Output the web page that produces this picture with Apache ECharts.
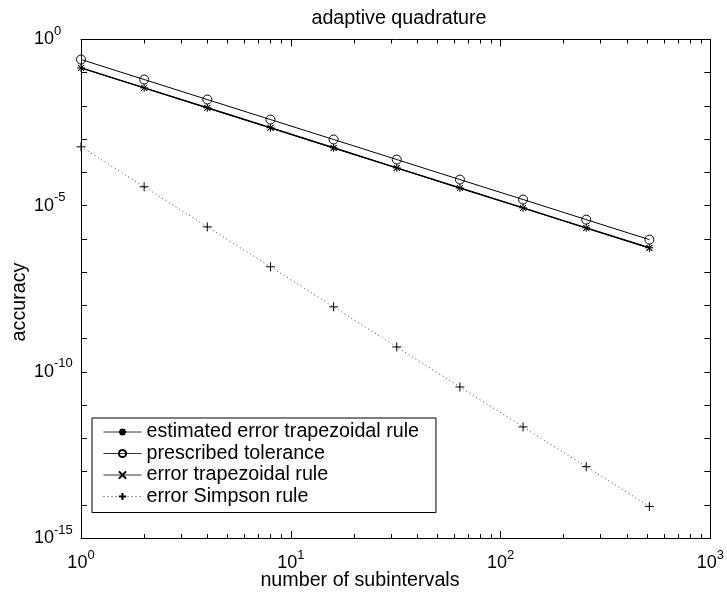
<!DOCTYPE html>
<html>
<head>
<meta charset="utf-8">
<script src="https://cdn.jsdelivr.net/npm/echarts@6/dist/echarts.min.js"></script>
<style>
html,body{margin:0;padding:0;background:#fff;}
#c{width:727px;height:592px;}
</style>
</head>
<body>
<div id="c"></div>
<script>
const subintervals = [1, 2, 4, 8, 16, 32, 64, 128, 256, 512];
const estTrap = [0.14, 0.035, 0.0088, 0.0022, 5.5e-4, 1.37e-4, 3.4e-5, 8.6e-6, 2.15e-6, 5.4e-7];
const tolerance = [0.25, 0.0625, 0.0156, 0.0039, 9.8e-4, 2.44e-4, 6.1e-5, 1.53e-5, 3.8e-6, 9.5e-7];
const errTrap = [0.14, 0.035, 0.0087, 0.0022, 5.4e-4, 1.36e-4, 3.4e-5, 8.5e-6, 2.1e-6, 5.3e-7];
const errSimpson = [5.9e-4, 3.7e-5, 2.3e-6, 1.45e-7, 9.0e-9, 5.6e-10, 3.5e-11, 2.2e-12, 1.4e-13, 8.9e-15];

const xMajor = [1, 10, 100, 1000];
const xMinor = [2,3,4,5,6,7,8,9,20,30,40,50,60,70,80,90,200,300,400,500,600,700,800,900];
const yTicks = [1e-15,1e-14,1e-13,1e-12,1e-11,1e-10,1e-9,1e-8,1e-7,1e-6,1e-5,1e-4,1e-3,1e-2,1e-1,1];
const yLabels = [1e-15, 1e-10, 1e-5, 1];

const seriesNames = ['estimated error trapezoidal rule', 'prescribed tolerance', 'error trapezoidal rule', 'error Simpson rule'];

const FONT = '"Liberation Sans", Arial, Helvetica, sans-serif';
const TXT = 19.7;

function pw(v) {
  const e = Math.round(Math.log10(v));
  return '{b|10}{s|' + (e < 0 ? '-' + (-e) : e) + '}';
}
const rich = {
  b: {fontSize: 18, fontFamily: FONT, color: '#000', height: 18, lineHeight: 24, verticalAlign: 'bottom'},
  s: {fontSize: 13, fontFamily: FONT, color: '#000', height: 14, lineHeight: 14, verticalAlign: 'top'}
};

const STAR = 'path://M0,-1L0,1M-1,0L1,0M-0.72,-0.72L0.72,0.72M-0.72,0.72L0.72,-0.72';
const CROSS = 'path://M-1,-1L1,1M-1,1L1,-1';
const PLUS = 'path://M0,-1L0,1M-1,0L1,0';

function pairs(ys) { return subintervals.map((x, i) => [x, ys[i]]); }

function xAx(pos, ticks, len, labels, showLine) {
  const ax = {
    type: 'log', logBase: 10, min: 1, max: 1000, position: pos, gridIndex: 0,
    axisLine: showLine ? {show: true, onZero: false, lineStyle: {color: '#000', width: 1}} : {show: false},
    axisTick: {show: true, inside: true, length: len, customValues: ticks, lineStyle: {color: '#000', width: 1}},
    splitLine: {show: false}, minorTick: {show: false}, minorSplitLine: {show: false},
    axisLabel: {show: false}
  };
  if (labels) {
    ax.axisLabel = {show: true, customValues: labels, margin: 10, formatter: pw, rich: rich, align: 'center', verticalAlign: 'top'};
  }
  return ax;
}
function yAx(pos, labels) {
  const ax = {
    type: 'log', logBase: 10, min: 1e-15, max: 1, position: pos, gridIndex: 0,
    axisLine: {show: true, onZero: false, lineStyle: {color: '#000', width: 1}},
    axisTick: {show: true, inside: true, length: 6, customValues: yTicks, lineStyle: {color: '#000', width: 1}},
    splitLine: {show: false}, minorTick: {show: false},
    axisLabel: {show: false}
  };
  if (labels) {
    ax.axisLabel = {show: true, customValues: labels, margin: 47, formatter: pw, rich: rich, align: 'left', verticalAlign: 'middle', padding: [0, 0, 6, 0]};
  }
  return ax;
}

const chart = echarts.init(document.getElementById('c'), null, {renderer: 'canvas'});
chart.setOption({
  backgroundColor: '#fff',
  animation: false,
  grid: {left: 81, right: 14, top: 39.5, bottom: 54, containLabel: false},
  xAxis: [
    xAx('bottom', xMajor, 7, xMajor, true),
    xAx('bottom', xMinor, 4, null, false),
    xAx('top', xMajor, 7, null, true),
    xAx('top', xMinor, 4, null, false)
  ],
  yAxis: [
    yAx('left', yLabels),
    yAx('right', null)
  ],
  legend: {
    orient: 'vertical', left: 92, top: 418,
    itemWidth: 38, itemHeight: 9, itemGap: 1.5,
    padding: [4, 17, 6, 11],
    borderColor: '#000', borderWidth: 1, backgroundColor: '#fff',
    lineStyle: {width: 1, color: '#333'},
    textStyle: {fontSize: TXT, fontFamily: FONT, color: '#000'},
    data: seriesNames
  },
  graphic: [
    {type: 'text', x: 399, y: 18.5, style: {text: 'adaptive quadrature', font: TXT + 'px ' + FONT, fill: '#000', align: 'center', verticalAlign: 'middle'}},
    {type: 'text', x: 360, y: 581, style: {text: 'number of subintervals', font: TXT + 'px ' + FONT, fill: '#000', align: 'center', verticalAlign: 'middle'}},
    {type: 'text', x: 20, y: 302, rotation: Math.PI / 2, style: {text: 'accuracy', font: TXT + 'px ' + FONT, fill: '#000', align: 'center', verticalAlign: 'middle'}}
  ],
  series: [
    {name: seriesNames[0], type: 'line', xAxisIndex: 0, yAxisIndex: 0, data: pairs(estTrap),
     symbol: STAR, symbolSize: 8, showAllSymbol: true,
     lineStyle: {color: '#000', width: 1.5}, itemStyle: {color: '#000', borderColor: '#000', borderWidth: 1}},
    {name: seriesNames[1], type: 'line', xAxisIndex: 0, yAxisIndex: 0, data: pairs(tolerance),
     symbol: 'circle', symbolSize: 9, showAllSymbol: true,
     lineStyle: {color: '#000', width: 1}, itemStyle: {color: 'rgba(255,255,255,0)', borderColor: '#000', borderWidth: 1}},
    {name: seriesNames[2], type: 'line', xAxisIndex: 0, yAxisIndex: 0, data: pairs(errTrap),
     symbol: CROSS, symbolSize: 6, showAllSymbol: true,
     lineStyle: {color: '#000', width: 1}, itemStyle: {color: '#000', borderColor: '#000', borderWidth: 1}},
    {name: seriesNames[3], type: 'line', xAxisIndex: 0, yAxisIndex: 0, data: pairs(errSimpson),
     symbol: PLUS, symbolSize: 9, showAllSymbol: true,
     lineStyle: {color: '#444', width: 1, type: [1, 3]}, itemStyle: {color: '#000', borderColor: '#000', borderWidth: 1}}
  ]
});
</script>
</body>
</html>
